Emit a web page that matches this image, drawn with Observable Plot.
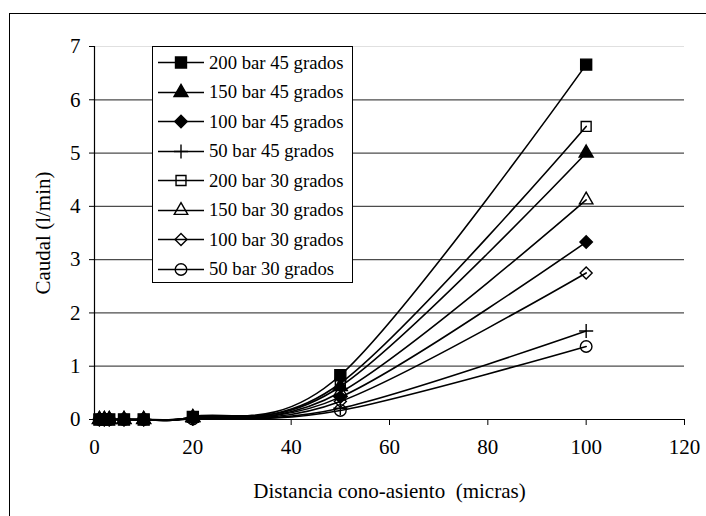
<!DOCTYPE html>
<html>
<head>
<meta charset="utf-8">
<script src="https://cdn.jsdelivr.net/npm/d3@7"></script>
<script src="https://cdn.jsdelivr.net/npm/@observablehq/plot@0.6"></script>
<style>
  body { margin: 0; background: #fff; }
  #wrap { position: relative; width: 706px; height: 516px; overflow: hidden; background: #fff;
          font-family: "Times New Roman", "Liberation Serif", "DejaVu Serif", serif; }
  #chart { position: absolute; left: 0; top: 0; }
  #frame { position: absolute; left: 9px; top: 13px; width: 760px; height: 560px;
           border: 1.5px solid #000; pointer-events: none; }
  #legend { position: absolute; left: 152px; top: 46px; width: 201px; height: 237px;
            border: 1px solid #000; background: #fff; box-sizing: border-box; }
  .row { position: absolute; left: 0; height: 29px; display: flex; align-items: center;
         font-size: 18.7px; color: #000; white-space: nowrap; }
  .row svg { display: block; margin-right: 4px; }
</style>
</head>
<body>
<div id="wrap"><div id="chart"></div><div id="frame"></div><div id="legend"></div></div>
<script>
// ---- data ----
const distancias = [1, 2, 3, 6, 10, 20, 50, 100];           // micras
const series = ["200 bar 45 grados", "150 bar 45 grados", "100 bar 45 grados", "50 bar 45 grados",
                "200 bar 30 grados", "150 bar 30 grados", "100 bar 30 grados", "50 bar 30 grados"];
const q200_45 = [0, 0, 0, 0, 0, 0.05, 0.83, 6.66];
const q150_45 = [0, 0, 0, 0, 0, 0.04, 0.62, 5.00];
const q100_45 = [0, 0, 0, 0, 0, 0.03, 0.42, 3.33];
const q50_45  = [0, 0, 0, 0, 0, 0.01, 0.21, 1.66];
const q200_30 = [0, 0, 0, 0, 0, 0.04, 0.68, 5.50];
const q150_30 = [0, 0, 0, 0, 0, 0.03, 0.51, 4.12];
const q100_30 = [0, 0, 0, 0, 0, 0.02, 0.34, 2.75];
const q50_30  = [0, 0, 0, 0, 0, 0.01, 0.17, 1.37];
const xTicks = [0, 20, 40, 60, 80, 100, 120];
const yTicks = [0, 1, 2, 3, 4, 5, 6, 7];
const xLabel = "Distancia cono-asiento  (micras)";
const yLabel = "Caudal (l/min)";

// ---- marker styles (per series) ----
const valores = [q200_45, q150_45, q100_45, q50_45, q200_30, q150_30, q100_30, q50_30];
const estilos = [
  {symbol: "square",   d3sym: d3.symbolSquare,   fill: "#000", r: 6.2},
  {symbol: "triangle", d3sym: d3.symbolTriangle, fill: "#000", r: 5.2},
  {symbol: "diamond2", d3sym: d3.symbolDiamond2, fill: "#000", r: 5.6},
  {symbol: "plus",     d3sym: d3.symbolPlus,     fill: "none", r: 4.6},
  {symbol: "square",   d3sym: d3.symbolSquare,   fill: "none", r: 5.6},
  {symbol: "triangle", d3sym: d3.symbolTriangle, fill: "none", r: 5.0},
  {symbol: "diamond2", d3sym: d3.symbolDiamond2, fill: "none", r: 5.4},
  {symbol: "circle",   d3sym: d3.symbolCircle,   fill: "none", r: 5.8}
];

const rows = series.flatMap((s, i) => distancias.map((d, j) => ({serie: s, x: d, y: valores[i][j]})));

const FONT = "'Times New Roman', 'Liberation Serif', 'DejaVu Serif', serif";
const chart = Plot.plot({
  width: 706, height: 516,
  marginLeft: 94, marginRight: 22, marginTop: 46, marginBottom: 97,
  style: {fontFamily: FONT, fontSize: "21px", background: "transparent", color: "#000"},
  x: {domain: [0, 120]},
  y: {domain: [0, 7]},
  marks: [
    Plot.ruleY(yTicks.filter(v => v > 0 && v < 7), {stroke: "#000", strokeOpacity: 0.7, strokeWidth: 1.2}),
    Plot.ruleY(yTicks.filter(v => v === 7), {stroke: "#000", strokeOpacity: 0.12}),
    Plot.ruleX([0], {stroke: "#000", strokeWidth: 1.2}),
    Plot.ruleY([0], {stroke: "#000", strokeWidth: 1.2}),
    Plot.axisX({ticks: xTicks, tickFormat: d3.format("d"), tickSize: 6, tickPadding: 14, label: xLabel,
                labelAnchor: "center", labelOffset: 78, labelArrow: "none", fontSize: 21, fontFamily: FONT}),
    Plot.axisY({ticks: yTicks, tickFormat: d3.format("d"), tickSize: 5, tickPadding: 9, label: yLabel,
                labelAnchor: "center", labelOffset: 59, labelArrow: "none", fontSize: 21, fontFamily: FONT}),
    Plot.line(rows, {x: "x", y: "y", z: "serie", curve: "cardinal", stroke: "#000", strokeWidth: 1.6}),
    ...series.map((s, i) => Plot.dot(rows.filter(r => r.serie === s), {
      x: "x", y: "y", symbol: () => estilos[i].symbol, r: estilos[i].r,
      fill: estilos[i].fill, stroke: "#000", strokeWidth: 1.4
    })).reverse()
  ]
});
document.getElementById("chart").appendChild(chart);

// ---- legend ----
const legend = document.getElementById("legend");
series.forEach((s, i) => {
  const row = document.createElement("div");
  row.className = "row";
  row.style.top = (1 + i * 29.5) + "px";
  const e = estilos[i];
  const svg = d3.create("svg").attr("width", 52).attr("height", 29);
  svg.append("line").attr("x1", 5).attr("x2", 51).attr("y1", 14.5).attr("y2", 14.5)
     .attr("stroke", "#000").attr("stroke-width", 1.6);
  svg.append("path").attr("transform", "translate(28,14.5)")
     .attr("d", d3.symbol().type(e.d3sym).size(Math.PI * e.r * e.r)())
     .attr("fill", e.fill).attr("stroke", "#000").attr("stroke-width", 1.4);
  row.appendChild(svg.node());
  const t = document.createElement("span");
  t.textContent = s;
  row.appendChild(t);
  legend.appendChild(row);
});
</script>
</body>
</html>
